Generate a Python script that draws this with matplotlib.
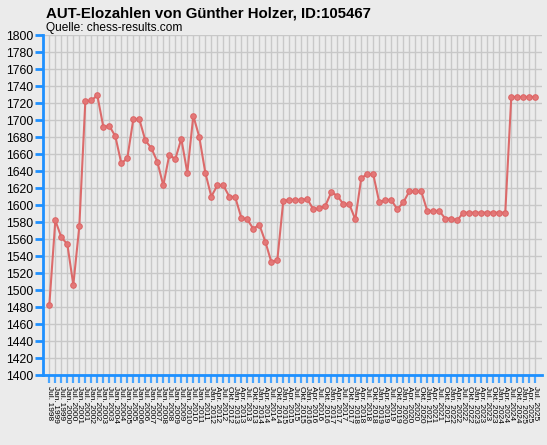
import matplotlib
matplotlib.use("Agg")
import matplotlib.pyplot as plt

plt.rcParams["font.family"] = ["Liberation Sans", "DejaVu Sans"]

title = "AUT-Elozahlen von Günther Holzer, ID:105467"
subtitle = "Quelle: chess-results.com"

# Rating lists: half-yearly Jul 1998 .. Jan 2012, then quarterly Apr 2012 .. Jul 2025
labels = []
y, m = 1998, "Jul"
for i in range(28):
    labels.append(f"{m}. {y}")
    if m == "Jul":
        m, y = "Jan", y + 1
    else:
        m = "Jul"
q_months = ["Jan", "Apr", "Jul", "Okt"]
qi, qy = 1, 2012
while True:
    labels.append(f"{q_months[qi]}. {qy}")
    if qy == 2025 and q_months[qi] == "Jul":
        break
    qi += 1
    if qi == 4:
        qi, qy = 0, qy + 1

elo = [1482, 1582, 1562, 1554, 1506, 1575, 1722, 1723, 1729, 1692,
       1693, 1681, 1649, 1655, 1701, 1701, 1676, 1667, 1651, 1623,
       1659, 1654, 1678, 1638, 1705, 1680, 1638, 1610, 1623, 1623,
       1610, 1609, 1585, 1583, 1572, 1577, 1557, 1533, 1535, 1605,
       1606, 1606, 1606, 1607, 1595, 1596, 1599, 1615, 1611, 1601,
       1601, 1583, 1632, 1636, 1636, 1603, 1606, 1606, 1595, 1603,
       1616, 1616, 1616, 1593, 1593, 1593, 1584, 1584, 1582, 1591,
       1591, 1591, 1591, 1591, 1591, 1591, 1591, 1727, 1727, 1727,
       1727, 1727]

yticks = list(range(1400, 1801, 20))

bg = "#ebebeb"
blue = "#1e90ff"
red = "#dc6464"

fig = plt.figure(figsize=(5.47, 4.45), dpi=100, facecolor=bg)
ax = fig.add_axes([0.0792, 0.1573, 0.9111, 0.764], facecolor=bg)

x = list(range(len(elo)))
ax.plot(x, elo, color=red, lw=1.5, marker="o", ms=4.0,
        mfc="#e47676", mec=red, mew=0.8, zorder=3, alpha=0.95)

ax.set_xlim(-1.0, len(elo) + 0.07)
ax.set_ylim(1400, 1800)
ax.set_yticks(yticks)
ax.set_yticklabels([str(v) for v in yticks], fontsize=8.8)
ax.set_xticks(x)
ax.set_xticklabels(labels, rotation=-90, fontsize=6.0, va="top", ha="center")

ax.grid(True, color="#c8c8c8", lw=1.0, zorder=0)
ax.set_axisbelow(True)

for s in ["top", "right"]:
    ax.spines[s].set_visible(False)
for s in ["left", "bottom"]:
    ax.spines[s].set_color(blue)
    ax.spines[s].set_linewidth(2.0)

ax.tick_params(axis="y", length=5.5, width=2.0, color=blue, pad=1.5, labelcolor="black")
ax.tick_params(axis="x", length=5.5, width=1.6, color="#4aa6ff", pad=2.5, labelcolor="black")

fig.text(46 / 547, 1 - 17 / 445, title, fontsize=10.8, fontweight="bold", ha="left", va="baseline")
fig.text(46 / 547, 1 - 31 / 445, subtitle, fontsize=8.6, ha="left", va="baseline")

fig.savefig("out.png", dpi=100, facecolor=bg)
